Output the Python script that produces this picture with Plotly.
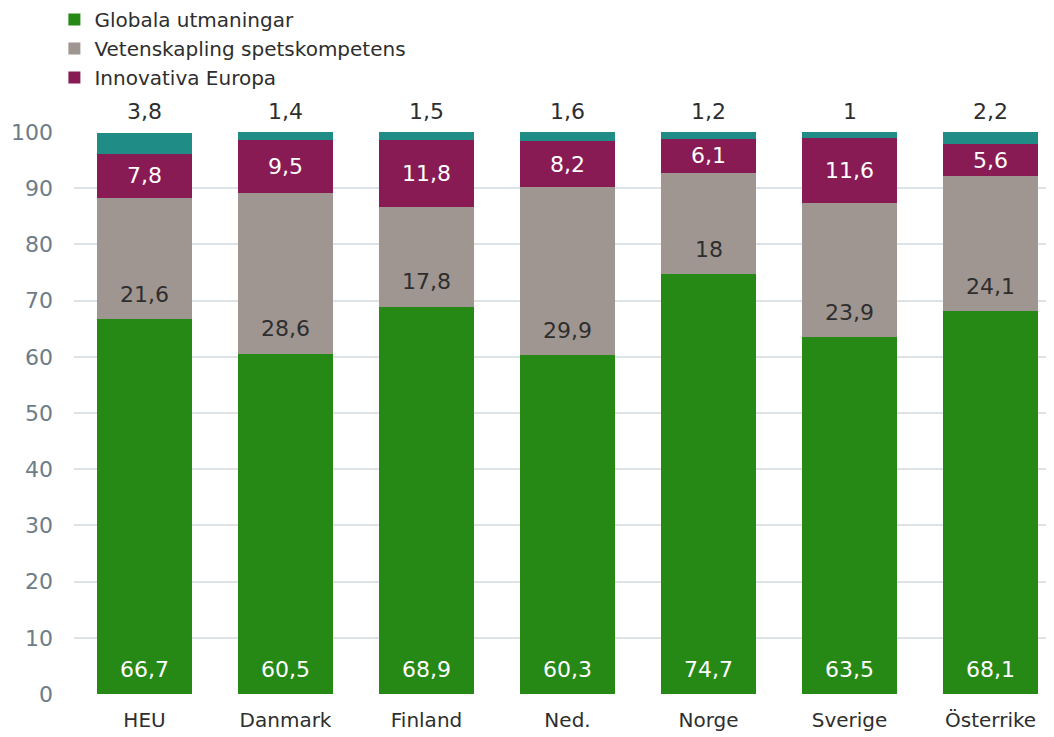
import plotly.graph_objects as go

categories = ["HEU", "Danmark", "Finland", "Ned.", "Norge", "Sverige", "Österrike"]
globala = [66.7, 60.5, 68.9, 60.3, 74.7, 63.5, 68.1]
vetenskap = [21.6, 28.6, 17.8, 29.9, 18.0, 23.9, 24.1]
innovativa = [7.8, 9.5, 11.8, 8.2, 6.1, 11.6, 5.6]
ovrigt = [3.8, 1.4, 1.5, 1.6, 1.2, 1.0, 2.2]

series_names = ["Globala utmaningar", "Vetenskapling spetskompetens", "Innovativa Europa", "Övrigt"]
colors = ["#268815", "#a09691", "#881b54", "#1f8d86"]

FONT = "DejaVu Sans"
DARK = "#2e2e2e"
LBL = 22

def fmt(v):
    s = ("%.1f" % v)
    if s.endswith(".0"):
        s = s[:-2]
    return s.replace(".", ",")

fig = go.Figure()
all_series = [globala, vetenskap, innovativa, ovrigt]
for i, (name, vals) in enumerate(zip(series_names, all_series)):
    fig.add_trace(go.Bar(
        x=categories, y=vals, name=name,
        marker=dict(color=colors[i], line=dict(width=0)),
        showlegend=(i < 3),
        hoverinfo="skip",
    ))

annotations = []
for j, cat in enumerate(categories):
    g, v, p, o = globala[j], vetenskap[j], innovativa[j], ovrigt[j]
    annotations.append(dict(x=cat, y=0, text=fmt(g), showarrow=False, yanchor="middle",
                            yshift=25, font=dict(color="white", size=LBL, family=FONT)))
    annotations.append(dict(x=cat, y=g, text=fmt(v), showarrow=False, yanchor="middle",
                            yshift=25, font=dict(color=DARK, size=LBL, family=FONT)))
    annotations.append(dict(x=cat, y=g + v + p / 2, text=fmt(p), showarrow=False, yanchor="middle",
                            font=dict(color="white", size=LBL, family=FONT)))
    annotations.append(dict(x=cat, y=100, text=fmt(o), showarrow=False, yanchor="bottom",
                            yshift=6, font=dict(color=DARK, size=LBL, family=FONT)))

fig.update_layout(
    width=1046, height=729,
    margin=dict(l=66, r=0, t=124, b=43, autoexpand=False),
    barmode="stack", bargap=0.33,
    plot_bgcolor="white", paper_bgcolor="white",
    font=dict(family=FONT, size=21, color=DARK),
    legend=dict(x=-0.02, y=1.235, xanchor="left", yanchor="top", traceorder="normal",
                font=dict(size=20, color=DARK, family=FONT), bgcolor="rgba(0,0,0,0)",
                itemwidth=30, tracegroupgap=0),
    annotations=annotations,
    xaxis=dict(range=[-0.5, 6.45], showgrid=False, showline=False, zeroline=False,
               tickfont=dict(size=20, color=DARK, family=FONT), ticks="", ticklabelstandoff=12),
    yaxis=dict(range=[0, 100], dtick=10, showgrid=True, gridcolor="#dde2e6", gridwidth=2,
               zeroline=False, showline=False, ticks="",
               tickfont=dict(size=22, color="#6d7d88", family=FONT), ticklabelstandoff=20),
)

fig.write_html("out.html")
